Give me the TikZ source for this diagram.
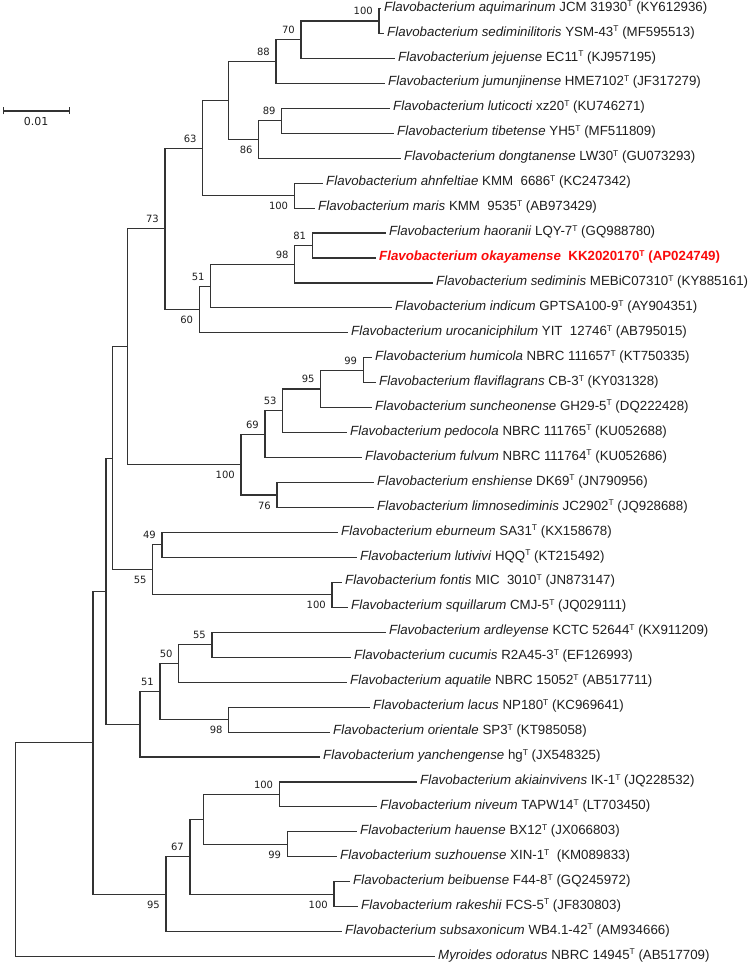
\documentclass[tikz,border=0pt]{standalone}
\usepackage{fontspec}
\setmainfont{Liberation Sans}
\newfontfamily\bootfont{DejaVu Sans}
\usetikzlibrary{arrows.meta,positioning}
\definecolor{treeLine}{RGB}{51, 51, 51}
\definecolor{treeText}{RGB}{30, 30, 30}
\definecolor{treeRed}{RGB}{250, 10, 10}
\newcommand{\typeT}{\raisebox{0.33em}{\fontsize{8.5}{8.5}\selectfont T}}
\newcommand{\flavo}[1]{\textit{Flavobacterium #1}}

\begin{document}
\begin{tikzpicture}[
  x=1pt, y=-1pt,
  branch/.style={draw=treeLine, line width=1.1pt},
  taxon/.style={
    anchor=mid west,
    inner xsep=3pt,
    inner ysep=0pt,
    text=treeText,
    font=\fontsize{13.3}{15}\selectfont
  },
  focus/.style={taxon, text=treeRed, font=\fontsize{13.3}{15}\selectfont\bfseries},
  boot/.style={inner sep=0pt, text=treeText, font=\bootfont\fontsize{10}{12}\selectfont},
  bsabove/.style={boot, anchor=base east, xshift=-6pt, yshift=6pt},
  bsbelow/.style={boot, anchor=base east, xshift=-6pt, yshift=-14pt}
]
  \useasboundingbox (0,0) rectangle (749,965);

  \coordinate (root) at (15.7,849.68);
  \coordinate (nZ) at (93,742.76);
  \coordinate (nY) at (106,591.28);
  \coordinate (nW) at (112.3,458.29);
  \coordinate (nX) at (127.7,346.7);
  \coordinate (n73) at (165,228.77);
  \coordinate (n63) at (202.7,148.07);
  \coordinate (nQ) at (228.7,100.5);
  \coordinate (n88) at (276,61.52);
  \coordinate (n70) at (301,39.69);
  \coordinate (n100a) at (379,20.98);
  \coordinate (n86) at (258.7,139.49);
  \coordinate (n89) at (281.7,120.78);
  \coordinate (n100m) at (294.3,195.63);
  \coordinate (n60) at (199.3,309.46);
  \coordinate (n51) at (210.7,286.07);
  \coordinate (n98) at (294.7,264.24);
  \coordinate (n81) at (312.3,245.53);
  \coordinate (n100b) at (241,464.62);
  \coordinate (n69) at (265,434.21);
  \coordinate (n53) at (282.7,410.82);
  \coordinate (n95) at (320.7,388.99);
  \coordinate (n99) at (363.3,370.28);
  \coordinate (n76) at (277,495.03);
  \coordinate (n55) at (152.7,569.88);
  \coordinate (n49) at (162,544.93);
  \coordinate (n100f) at (332,594.83);
  \coordinate (nV) at (140,724.26);
  \coordinate (n51b) at (160,691.51);
  \coordinate (n50) at (178.7,663.44);
  \coordinate (n55a) at (212,644.73);
  \coordinate (n98l) at (228.7,719.58);
  \coordinate (n95s) at (166,894.23);
  \coordinate (n67) at (190,856.8);
  \coordinate (nP) at (203.7,819.38);
  \coordinate (n100k) at (279.3,794.43);
  \coordinate (n99h) at (287.3,844.33);
  \coordinate (n100r) at (334,894.23);

  \node[taxon] (t1) at (381,8.5) {\flavo{aquimarinum} JCM 31930\typeT{} (KY612936)};
  \node[taxon] (t2) at (384,33.45) {\flavo{sediminilitoris} YSM-43\typeT{} (MF595513)};
  \node[taxon] (t3) at (395,58.4) {\flavo{jejuense} EC11\typeT{} (KJ957195)};
  \node[taxon] (t4) at (385,83.35) {\flavo{jumunjinense} HME7102\typeT{} (JF317279)};
  \node[taxon] (t5) at (390,108.3) {\flavo{luticocti} xz20\typeT{} (KU746271)};
  \node[taxon] (t6) at (394,133.25) {\flavo{tibetense} YH5\typeT{} (MF511809)};
  \node[taxon] (t7) at (401,158.2) {\flavo{dongtanense} LW30\typeT{} (GU073293)};
  \node[taxon] (t8) at (323,183.15) {\flavo{ahnfeltiae} KMM\ \ 6686\typeT{} (KC247342)};
  \node[taxon] (t9) at (315,208.1) {\flavo{maris} KMM\ \ 9535\typeT{} (AB973429)};
  \node[taxon] (t10) at (386,233.05) {\flavo{haoranii} LQY-7\typeT{} (GQ988780)};
  \node[focus] (t11) at (376,258) {\flavo{okayamense}\ \ KK2020170\typeT{} (AP024749)};
  \node[taxon] (t12) at (433,282.95) {\flavo{sediminis} MEBiC07310\typeT{} (KY885161)};
  \node[taxon] (t13) at (392,307.9) {\flavo{indicum} GPTSA100-9\typeT{} (AY904351)};
  \node[taxon] (t14) at (348,332.85) {\flavo{urocaniciphilum} YIT\ \ 12746\typeT{} (AB795015)};
  \node[taxon] (t15) at (372,357.8) {\flavo{humicola} NBRC 111657\typeT{} (KT750335)};
  \node[taxon] (t16) at (376,382.75) {\flavo{flaviflagrans} CB-3\typeT{} (KY031328)};
  \node[taxon] (t17) at (372,407.7) {\flavo{suncheonense} GH29-5\typeT{} (DQ222428)};
  \node[taxon] (t18) at (347,432.65) {\flavo{pedocola} NBRC 111765\typeT{} (KU052688)};
  \node[taxon] (t19) at (362,457.6) {\flavo{fulvum} NBRC 111764\typeT{} (KU052686)};
  \node[taxon] (t20) at (374,482.55) {\flavo{enshiense} DK69\typeT{} (JN790956)};
  \node[taxon] (t21) at (374,507.5) {\flavo{limnosediminis} JC2902\typeT{} (JQ928688)};
  \node[taxon] (t22) at (338,532.45) {\flavo{eburneum} SA31\typeT{} (KX158678)};
  \node[taxon] (t23) at (357,557.4) {\flavo{lutivivi} HQQ\typeT{} (KT215492)};
  \node[taxon] (t24) at (342,582.35) {\flavo{fontis} MIC\ \ 3010\typeT{} (JN873147)};
  \node[taxon] (t25) at (348,607.3) {\flavo{squillarum} CMJ-5\typeT{} (JQ029111)};
  \node[taxon] (t26) at (386,632.25) {\flavo{ardleyense} KCTC 52644\typeT{} (KX911209)};
  \node[taxon] (t27) at (351,657.2) {\flavo{cucumis} R2A45-3\typeT{} (EF126993)};
  \node[taxon] (t28) at (347,682.15) {\flavo{aquatile} NBRC 15052\typeT{} (AB517711)};
  \node[taxon] (t29) at (370,707.1) {\flavo{lacus} NP180\typeT{} (KC969641)};
  \node[taxon] (t30) at (330,732.05) {\flavo{orientale} SP3\typeT{} (KT985058)};
  \node[taxon] (t31) at (320,757) {\flavo{yanchengense} hg\typeT{} (JX548325)};
  \node[taxon] (t32) at (417,781.95) {\flavo{akiainvivens} IK-1\typeT{} (JQ228532)};
  \node[taxon] (t33) at (377,806.9) {\flavo{niveum} TAPW14\typeT{} (LT703450)};
  \node[taxon] (t34) at (357,831.85) {\flavo{hauense} BX12\typeT{} (JX066803)};
  \node[taxon] (t35) at (337,856.8) {\flavo{suzhouense} XIN-1\typeT{}\ \ (KM089833)};
  \node[taxon] (t36) at (350,881.75) {\flavo{beibuense} F44-8\typeT{} (GQ245972)};
  \node[taxon] (t37) at (358,906.7) {\flavo{rakeshii} FCS-5\typeT{} (JF830803)};
  \node[taxon] (t38) at (342,931.65) {\flavo{subsaxonicum} WB4.1-42\typeT{} (AM934666)};
  \node[taxon] (t39) at (435,956.6) {\textit{Myroides odoratus} NBRC 14945\typeT{} (AB517709)};

  \draw[branch] (root) |- (nZ);
  \draw[branch] (root) |- (t39.mid west);
  \draw[branch] (nZ) |- (nY);
  \draw[branch] (nZ) |- (n95s);
  \draw[branch] (nY) |- (nW);
  \draw[branch] (nY) |- (nV);
  \draw[branch] (nW) |- (nX);
  \draw[branch] (nW) |- (n55);
  \draw[branch] (nX) |- (n73);
  \draw[branch] (nX) |- (n100b);
  \draw[branch] (n73) |- (n63);
  \draw[branch] (n73) |- (n60);
  \draw[branch] (n63) |- (nQ);
  \draw[branch] (n63) |- (n100m);
  \draw[branch] (nQ) |- (n88);
  \draw[branch] (nQ) |- (n86);
  \draw[branch] (n88) |- (n70);
  \draw[branch] (n88) |- (t4.mid west);
  \draw[branch] (n70) |- (n100a);
  \draw[branch] (n70) |- (t3.mid west);
  \draw[branch] (n100a) |- (t1.mid west);
  \draw[branch] (n100a) |- (t2.mid west);
  \draw[branch] (n86) |- (n89);
  \draw[branch] (n86) |- (t7.mid west);
  \draw[branch] (n89) |- (t5.mid west);
  \draw[branch] (n89) |- (t6.mid west);
  \draw[branch] (n100m) |- (t8.mid west);
  \draw[branch] (n100m) |- (t9.mid west);
  \draw[branch] (n60) |- (n51);
  \draw[branch] (n60) |- (t14.mid west);
  \draw[branch] (n51) |- (n98);
  \draw[branch] (n51) |- (t13.mid west);
  \draw[branch] (n98) |- (n81);
  \draw[branch] (n98) |- (t12.mid west);
  \draw[branch] (n81) |- (t10.mid west);
  \draw[branch] (n81) |- (t11.mid west);
  \draw[branch] (n100b) |- (n69);
  \draw[branch] (n100b) |- (n76);
  \draw[branch] (n69) |- (n53);
  \draw[branch] (n69) |- (t19.mid west);
  \draw[branch] (n53) |- (n95);
  \draw[branch] (n53) |- (t18.mid west);
  \draw[branch] (n95) |- (n99);
  \draw[branch] (n95) |- (t17.mid west);
  \draw[branch] (n99) |- (t15.mid west);
  \draw[branch] (n99) |- (t16.mid west);
  \draw[branch] (n76) |- (t20.mid west);
  \draw[branch] (n76) |- (t21.mid west);
  \draw[branch] (n55) |- (n49);
  \draw[branch] (n55) |- (n100f);
  \draw[branch] (n49) |- (t22.mid west);
  \draw[branch] (n49) |- (t23.mid west);
  \draw[branch] (n100f) |- (t24.mid west);
  \draw[branch] (n100f) |- (t25.mid west);
  \draw[branch] (nV) |- (n51b);
  \draw[branch] (nV) |- (t31.mid west);
  \draw[branch] (n51b) |- (n50);
  \draw[branch] (n51b) |- (n98l);
  \draw[branch] (n50) |- (n55a);
  \draw[branch] (n50) |- (t28.mid west);
  \draw[branch] (n55a) |- (t26.mid west);
  \draw[branch] (n55a) |- (t27.mid west);
  \draw[branch] (n98l) |- (t29.mid west);
  \draw[branch] (n98l) |- (t30.mid west);
  \draw[branch] (n95s) |- (n67);
  \draw[branch] (n95s) |- (t38.mid west);
  \draw[branch] (n67) |- (nP);
  \draw[branch] (n67) |- (n100r);
  \draw[branch] (nP) |- (n100k);
  \draw[branch] (nP) |- (n99h);
  \draw[branch] (n100k) |- (t32.mid west);
  \draw[branch] (n100k) |- (t33.mid west);
  \draw[branch] (n99h) |- (t34.mid west);
  \draw[branch] (n99h) |- (t35.mid west);
  \draw[branch] (n100r) |- (t36.mid west);
  \draw[branch] (n100r) |- (t37.mid west);

  \node[bsabove] (b100a) at (n100a) {100};
  \node[bsabove] (b70) at (n70) {70};
  \node[bsabove] (b88) at (n88) {88};
  \node[bsabove] (b89) at (n89) {89};
  \node[bsbelow] (b86) at (n86) {86};
  \node[bsabove] (b63) at (n63) {63};
  \node[bsbelow] (b100m) at (n100m) {100};
  \node[bsabove] (b73) at (n73) {73};
  \node[bsabove] (b81) at (n81) {81};
  \node[bsabove] (b98) at (n98) {98};
  \node[bsabove] (b51) at (n51) {51};
  \node[bsbelow] (b60) at (n60) {60};
  \node[bsabove] (b99) at (n99) {99};
  \node[bsabove] (b95) at (n95) {95};
  \node[bsabove] (b53) at (n53) {53};
  \node[bsabove] (b69) at (n69) {69};
  \node[bsbelow] (b100b) at (n100b) {100};
  \node[bsbelow] (b76) at (n76) {76};
  \node[bsabove] (b49) at (n49) {49};
  \node[bsbelow] (b55) at (n55) {55};
  \node[bsbelow] (b100f) at (n100f) {100};
  \node[bsabove] (b55a) at (n55a) {55};
  \node[bsabove] (b50) at (n50) {50};
  \node[bsabove] (b51b) at (n51b) {51};
  \node[bsbelow] (b98l) at (n98l) {98};
  \node[bsabove] (b100k) at (n100k) {100};
  \node[bsbelow] (b99h) at (n99h) {99};
  \node[bsabove] (b67) at (n67) {67};
  \node[bsbelow] (b100r) at (n100r) {100};
  \node[bsbelow] (b95s) at (n95s) {95};

  \coordinate (barL) at (3.2,111);
  \coordinate (barR) at (70,111);
  \draw[branch, {Bar[width=7pt]}-{Bar[width=7pt]}] (barL) -- (barR);
  \node[boot, font=\bootfont\fontsize{11}{13}\selectfont, below=6pt of barL, anchor=north, xshift=33pt] (barlabel) {0.01};
\end{tikzpicture}
\end{document}
